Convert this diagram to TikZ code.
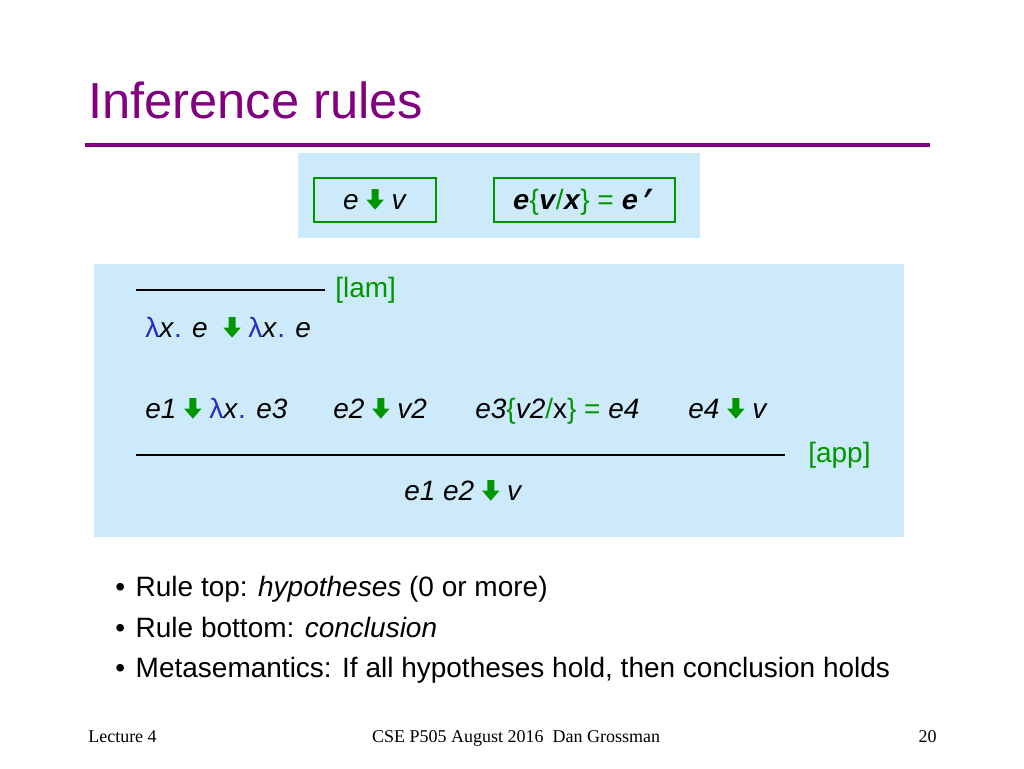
\documentclass[tikz,border=0pt]{standalone}
\usepackage{fontspec}
\setmainfont{Liberation Sans}
\newfontfamily\codefont{Liberation Mono}
\newfontfamily\footfont{Liberation Serif}
\usepackage{tikz}
\definecolor{slidepurple}{RGB}{128,0,128}
\definecolor{rulegreen}{RGB}{0,150,0}
\definecolor{boxblue}{RGB}{204,234,250}
\definecolor{lamblue}{RGB}{40,40,200}
\newcommand{\evalarr}{\ \tikz[baseline=0pt,x=1pt,y=1pt]\fill[rulegreen] (-2.6,15) -- (2.6,15) -- (2.6,7) -- (6.5,7) -- (0,-0.5) -- (-6.5,7) -- (-2.6,7) -- cycle;\ }
\newcommand{\lam}{{\color{lamblue}λ}}
\newcommand{\cd}[1]{{\codefont\bfseries\itshape #1}}
\tikzset{
  bodytext/.style={anchor=base west,inner sep=0pt,font=\fontsize{21}{25}\selectfont},
  greentext/.style={bodytext,text=rulegreen},
  footnote/.style={anchor=base,inner sep=0pt,font=\footfont\fontsize{13.5}{16}\selectfont}
}
\begin{document}
\begin{tikzpicture}[x=0.75pt,y=0.75pt,yscale=-1,xscale=1]
\useasboundingbox (0,0) rectangle (1024,768);

%Title
\node (title) [anchor=base west,inner sep=0pt,text=slidepurple,font=\fontsize{38}{44}\selectfont] at (88,118) {Inference rules};
\draw [slidepurple,line width=3pt] (85,145) -- (930,145);

%Judgement boxes
\fill [boxblue] (298,153) rectangle (700,238);
\draw [rulegreen,line width=2.2pt] (314,178) rectangle (436,222);
\draw [rulegreen,line width=2.2pt] (494,178) rectangle (675,222);
\node (evaljudge) [bodytext,anchor=base] at (375,209) {\textit{e}\evalarr\textit{v}};
\node (substjudge) [bodytext,anchor=base] at (584,209) {\cd{e}{\color{rulegreen}\{}\cd{v}{\color{rulegreen}/}\cd{x}{\color{rulegreen}\} =} \cd{e\textquoteright}};

%Rules
\fill [boxblue] (94,264) rectangle (904,537);
\draw [line width=0.9pt] (136,290) -- (325,290);
\node (lamname) [greentext] at (335,297) {[lam]};
\node (lamrule) [bodytext] at (145,337) {\lam\textit{x}{\color{lamblue}.} \textit{e} \evalarr\lam\textit{x}{\color{lamblue}.} \textit{e}};

\node (hypa) [bodytext] at (145,418) {\textit{e1}\evalarr\lam\textit{x}{\color{lamblue}.} \textit{e3}};
\node (hypb) [bodytext] at (333,418) {\textit{e2}\evalarr\textit{v2}};
\node (hypc) [bodytext] at (475,418) {\textit{e3}{\color{rulegreen}\{}\textit{v2}{\color{rulegreen}/}x{\color{rulegreen}\} =} \textit{e4}};
\node (hypd) [bodytext] at (688,418) {\textit{e4}\evalarr\textit{v}};
\draw [line width=0.9pt] (136,455) -- (785,455);
\node (appname) [greentext] at (808,462) {[app]};
\node (concl) [bodytext] at (404,500) {\textit{e1 e2}\evalarr\textit{v}};

%Bullets
\node (bulleta) [bodytext] at (115,596) {\textbullet\hspace{8pt}Rule top: \textit{hypotheses} (0 or more)};
\node (bulletb) [bodytext] at (115,637) {\textbullet\hspace{8pt}Rule bottom: \textit{conclusion}};
\node (bulletc) [bodytext] at (115,677) {\textbullet\hspace{8pt}Metasemantics: If all hypotheses hold, then conclusion holds};

%Footer
\node (footl) [footnote,anchor=base west] at (88,742) {Lecture 4};
\node (footc) [footnote] at (516,742) {CSE P505 August 2016\ \ Dan Grossman};
\node (footr) [footnote,anchor=base east] at (937,742) {20};
\end{tikzpicture}
\end{document}
